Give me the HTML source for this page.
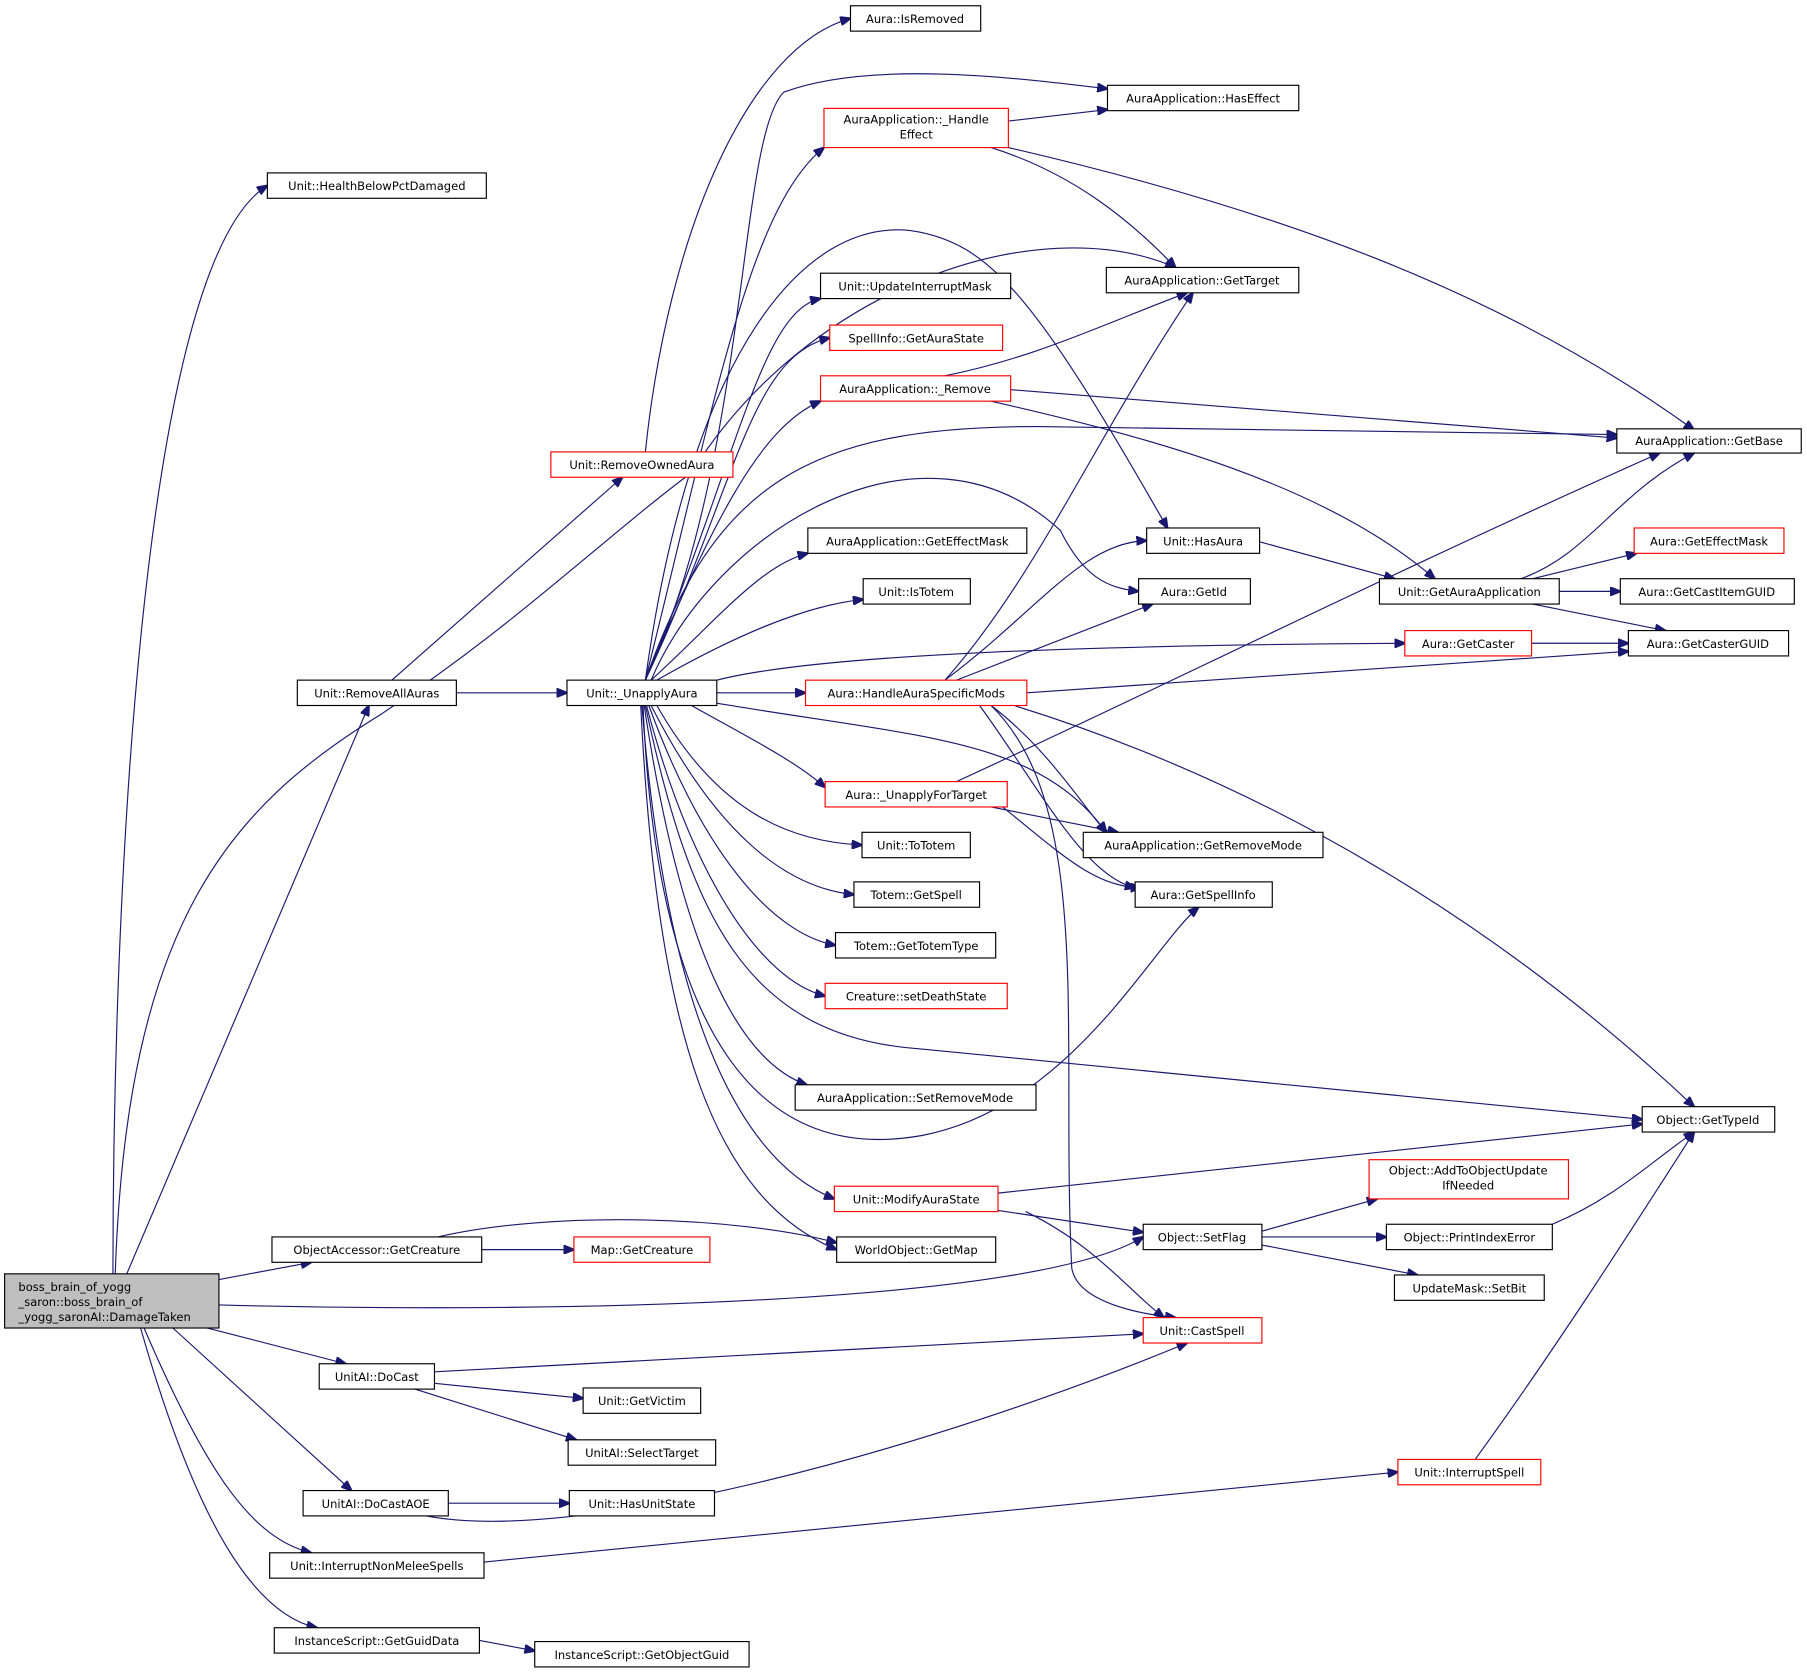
<!DOCTYPE html>
<html><head><meta charset="utf-8"><style>
html,body{margin:0;padding:0;background:#fff;}
svg{display:block}
text{font-family:"DejaVu Sans","Liberation Sans",sans-serif;font-size:10px;fill:#000;text-anchor:middle}
.n{fill:#fff;stroke:#000;stroke-width:1}
.r{fill:#fff;stroke:#ff0000;stroke-width:1}
.e{fill:none;stroke:#191970;stroke-width:1}
</style></head><body>
<svg width="1807" height="1675" viewBox="0 0 1568 1453" preserveAspectRatio="none" xmlns="http://www.w3.org/2000/svg">
<defs><marker id="a" markerWidth="10" markerHeight="8" refX="9" refY="4" orient="auto" markerUnits="userSpaceOnUse"><path d="M0,0 L10,4 L0,8 z" fill="#191970" stroke="#191970"/></marker></defs>
<g class="e" marker-end="url(#a)">
<path d="M98,1105 C98,800 120,230 232,161"/>
<path d="M100,1105 C110,800 200,700 330,620 C450,540 520,470 600,410 C700,250 900,180 1020,232"/>
<path d="M110,1105 L320,612"/>
<path d="M190,1110 L270,1095"/>
<path d="M190,1132 C500,1140 900,1130 992,1073"/>
<path d="M180,1152 L300,1183"/>
<path d="M150,1152 L305,1293"/>
<path d="M125,1152 C180,1280 220,1335 270,1347"/>
<path d="M122,1152 C170,1320 220,1400 275,1412"/>
<path d="M340,590 L540,414"/>
<path d="M396,601 L492,601"/>
<path d="M560,392 C580,200 650,40 738,16"/>
<path d="M418,1084 L498,1084"/>
<path d="M380,1073 C480,1050 640,1055 726,1078"/>
<path d="M377,1190 L992,1157"/>
<path d="M377,1200 L506,1213"/>
<path d="M360,1205 L500,1249"/>
<path d="M389,1304 L494,1304"/>
<path d="M370,1315 C500,1340 800,1260 1030,1165"/>
<path d="M420,1355 L1213,1277"/>
<path d="M416,1423 L464,1432"/>
<path d="M560,590 C650,400 640,120 680,80 C760,50 900,70 961,77"/>
<path d="M560,590 C620,350 650,180 715,128"/>
<path d="M560,590 C600,300 700,190 790,200 C860,210 900,260 1013,458"/>
<path d="M560,590 C640,400 660,270 712,259"/>
<path d="M560,590 C640,420 650,310 720,293"/>
<path d="M560,590 C620,450 660,370 712,348"/>
<path d="M560,590 C620,420 700,370 900,370 L1403,377"/>
<path d="M565,590 C620,460 800,350 920,460 C940,500 960,510 988,513"/>
<path d="M565,590 C620,540 660,490 701,480"/>
<path d="M570,590 C640,550 700,525 749,520"/>
<path d="M622,590 C700,570 900,560 1219,558"/>
<path d="M622,601 L699,601"/>
<path d="M600,612 C650,640 690,660 716,683"/>
<path d="M622,610 C800,640 900,640 960,722"/>
<path d="M570,612 C620,700 680,730 748,733"/>
<path d="M565,612 C620,720 680,770 741,776"/>
<path d="M563,612 C610,740 670,810 725,820"/>
<path d="M561,612 C600,760 660,850 716,864"/>
<path d="M560,612 C600,800 650,900 800,910 L1425,971"/>
<path d="M559,612 C590,820 640,920 700,941"/>
<path d="M558,612 C570,900 660,1010 800,985 C930,960 1000,820 1040,787"/>
<path d="M557,612 C580,900 650,1010 724,1040"/>
<path d="M556,612 C570,900 620,1040 726,1084"/>
<path d="M875,105 L961,95"/>
<path d="M860,128 C930,150 980,190 1020,232"/>
<path d="M875,128 C1100,180 1300,250 1470,373"/>
<path d="M820,326 C900,310 960,280 1030,254"/>
<path d="M877,338 L1403,380"/>
<path d="M860,348 C1000,380 1150,420 1245,502"/>
<path d="M1093,470 L1210,502"/>
<path d="M1320,502 C1380,480 1400,430 1470,393"/>
<path d="M1330,502 L1420,480"/>
<path d="M1353,513 L1406,513"/>
<path d="M1330,524 L1445,547"/>
<path d="M1329,558 L1413,558"/>
<path d="M820,590 C900,500 950,380 1035,254"/>
<path d="M820,590 C900,530 940,470 995,469"/>
<path d="M830,590 L1000,524"/>
<path d="M891,601 L1413,565"/>
<path d="M860,612 C910,650 940,700 960,722"/>
<path d="M850,612 C900,680 940,760 985,770"/>
<path d="M880,612 C1100,680 1300,800 1470,960"/>
<path d="M860,612 C950,700 920,900 930,1100 C935,1130 990,1140 1020,1143"/>
<path d="M830,678 C1000,600 1200,500 1440,393"/>
<path d="M860,700 L970,722"/>
<path d="M870,700 C920,740 950,770 990,770"/>
<path d="M866,1035 L1425,975"/>
<path d="M866,1050 L992,1069"/>
<path d="M890,1051 C950,1080 980,1120 1010,1143"/>
<path d="M1095,1068 L1195,1040"/>
<path d="M1095,1073 L1203,1073"/>
<path d="M1095,1080 L1230,1106"/>
<path d="M1347,1062 C1400,1040 1430,1010 1470,982"/>
<path d="M1280,1266 C1350,1170 1420,1060 1470,982"/>
</g>
<rect x="4" y="1105" width="186" height="47" fill="#bfbfbf" stroke="#000"/>
<text x="16" y="1120" style="text-anchor:start">boss_brain_of_yogg</text>
<text x="16" y="1133" style="text-anchor:start">_saron::boss_brain_of</text>
<text x="16" y="1146" style="text-anchor:start">_yogg_saronAI::DamageTaken</text>
<g>
<rect class="n" x="232" y="150" width="190" height="22"/><text x="327" y="165">Unit::HealthBelowPctDamaged</text>
<rect class="n" x="258" y="590" width="138" height="22"/><text x="327" y="605">Unit::RemoveAllAuras</text>
<rect class="n" x="236" y="1073" width="182" height="22"/><text x="327" y="1088">ObjectAccessor::GetCreature</text>
<rect class="n" x="277" y="1183" width="100" height="22"/><text x="327" y="1198">UnitAI::DoCast</text>
<rect class="n" x="263" y="1293" width="126" height="22"/><text x="326" y="1308">UnitAI::DoCastAOE</text>
<rect class="n" x="234" y="1347" width="186" height="22"/><text x="327" y="1362">Unit::InterruptNonMeleeSpells</text>
<rect class="n" x="238" y="1412" width="178" height="22"/><text x="327" y="1427">InstanceScript::GetGuidData</text>
<rect class="r" x="478" y="392" width="158" height="22"/><text x="557" y="407">Unit::RemoveOwnedAura</text>
<rect class="n" x="492" y="590" width="130" height="22"/><text x="557" y="605">Unit::_UnapplyAura</text>
<rect class="r" x="498" y="1073" width="118" height="22"/><text x="557" y="1088">Map::GetCreature</text>
<rect class="n" x="506" y="1204" width="102" height="22"/><text x="557" y="1219">Unit::GetVictim</text>
<rect class="n" x="493" y="1249" width="128" height="22"/><text x="557" y="1264">UnitAI::SelectTarget</text>
<rect class="n" x="494" y="1293" width="126" height="22"/><text x="557" y="1308">Unit::HasUnitState</text>
<rect class="n" x="464" y="1424" width="186" height="22"/><text x="557" y="1439">InstanceScript::GetObjectGuid</text>
<rect class="n" x="738" y="5" width="113" height="22"/><text x="794" y="20">Aura::IsRemoved</text>
<rect class="r" x="715" y="94" width="160" height="34"/><text x="795" y="107">AuraApplication::_Handle</text><text x="795" y="120">Effect</text>
<rect class="n" x="712" y="237" width="165" height="22"/><text x="794" y="252">Unit::UpdateInterruptMask</text>
<rect class="r" x="720" y="282" width="150" height="22"/><text x="795" y="297">SpellInfo::GetAuraState</text>
<rect class="r" x="712" y="326" width="165" height="22"/><text x="794" y="341">AuraApplication::_Remove</text>
<rect class="n" x="701" y="458" width="190" height="22"/><text x="796" y="473">AuraApplication::GetEffectMask</text>
<rect class="n" x="749" y="502" width="93" height="22"/><text x="795" y="517">Unit::IsTotem</text>
<rect class="r" x="699" y="590" width="192" height="22"/><text x="795" y="605">Aura::HandleAuraSpecificMods</text>
<rect class="r" x="716" y="678" width="158" height="22"/><text x="795" y="693">Aura::_UnapplyForTarget</text>
<rect class="n" x="748" y="722" width="94" height="22"/><text x="795" y="737">Unit::ToTotem</text>
<rect class="n" x="741" y="765" width="109" height="22"/><text x="795" y="780">Totem::GetSpell</text>
<rect class="n" x="725" y="809" width="139" height="22"/><text x="795" y="824">Totem::GetTotemType</text>
<rect class="r" x="716" y="853" width="158" height="22"/><text x="795" y="868">Creature::setDeathState</text>
<rect class="n" x="690" y="941" width="209" height="22"/><text x="794" y="956">AuraApplication::SetRemoveMode</text>
<rect class="r" x="724" y="1029" width="142" height="22"/><text x="795" y="1044">Unit::ModifyAuraState</text>
<rect class="n" x="726" y="1073" width="138" height="22"/><text x="795" y="1088">WorldObject::GetMap</text>
<rect class="n" x="961" y="74" width="166" height="22"/><text x="1044" y="89">AuraApplication::HasEffect</text>
<rect class="n" x="960" y="232" width="167" height="22"/><text x="1043" y="247">AuraApplication::GetTarget</text>
<rect class="n" x="995" y="458" width="98" height="22"/><text x="1044" y="473">Unit::HasAura</text>
<rect class="n" x="988" y="502" width="97" height="22"/><text x="1036" y="517">Aura::GetId</text>
<rect class="n" x="940" y="722" width="208" height="22"/><text x="1044" y="737">AuraApplication::GetRemoveMode</text>
<rect class="n" x="985" y="765" width="119" height="22"/><text x="1044" y="780">Aura::GetSpellInfo</text>
<rect class="n" x="992" y="1062" width="103" height="22"/><text x="1043" y="1077">Object::SetFlag</text>
<rect class="r" x="992" y="1143" width="103" height="22"/><text x="1043" y="1158">Unit::CastSpell</text>
<rect class="r" x="1188" y="1006" width="173" height="34"/><text x="1274" y="1019">Object::AddToObjectUpdate</text><text x="1274" y="1032">IfNeeded</text>
<rect class="n" x="1203" y="1062" width="144" height="22"/><text x="1275" y="1077">Object::PrintIndexError</text>
<rect class="n" x="1210" y="1106" width="130" height="22"/><text x="1275" y="1121">UpdateMask::SetBit</text>
<rect class="r" x="1213" y="1266" width="124" height="22"/><text x="1275" y="1281">Unit::InterruptSpell</text>
<rect class="n" x="1197" y="502" width="156" height="22"/><text x="1275" y="517">Unit::GetAuraApplication</text>
<rect class="r" x="1219" y="547" width="110" height="22"/><text x="1274" y="562">Aura::GetCaster</text>
<rect class="n" x="1403" y="372" width="160" height="21"/><text x="1483" y="386">AuraApplication::GetBase</text>
<rect class="r" x="1418" y="458" width="130" height="22"/><text x="1483" y="473">Aura::GetEffectMask</text>
<rect class="n" x="1406" y="502" width="151" height="22"/><text x="1481" y="517">Aura::GetCastItemGUID</text>
<rect class="n" x="1413" y="547" width="139" height="22"/><text x="1482" y="562">Aura::GetCasterGUID</text>
<rect class="n" x="1425" y="960" width="115" height="22"/><text x="1482" y="975">Object::GetTypeId</text>
</g>
</svg>
</body></html>
